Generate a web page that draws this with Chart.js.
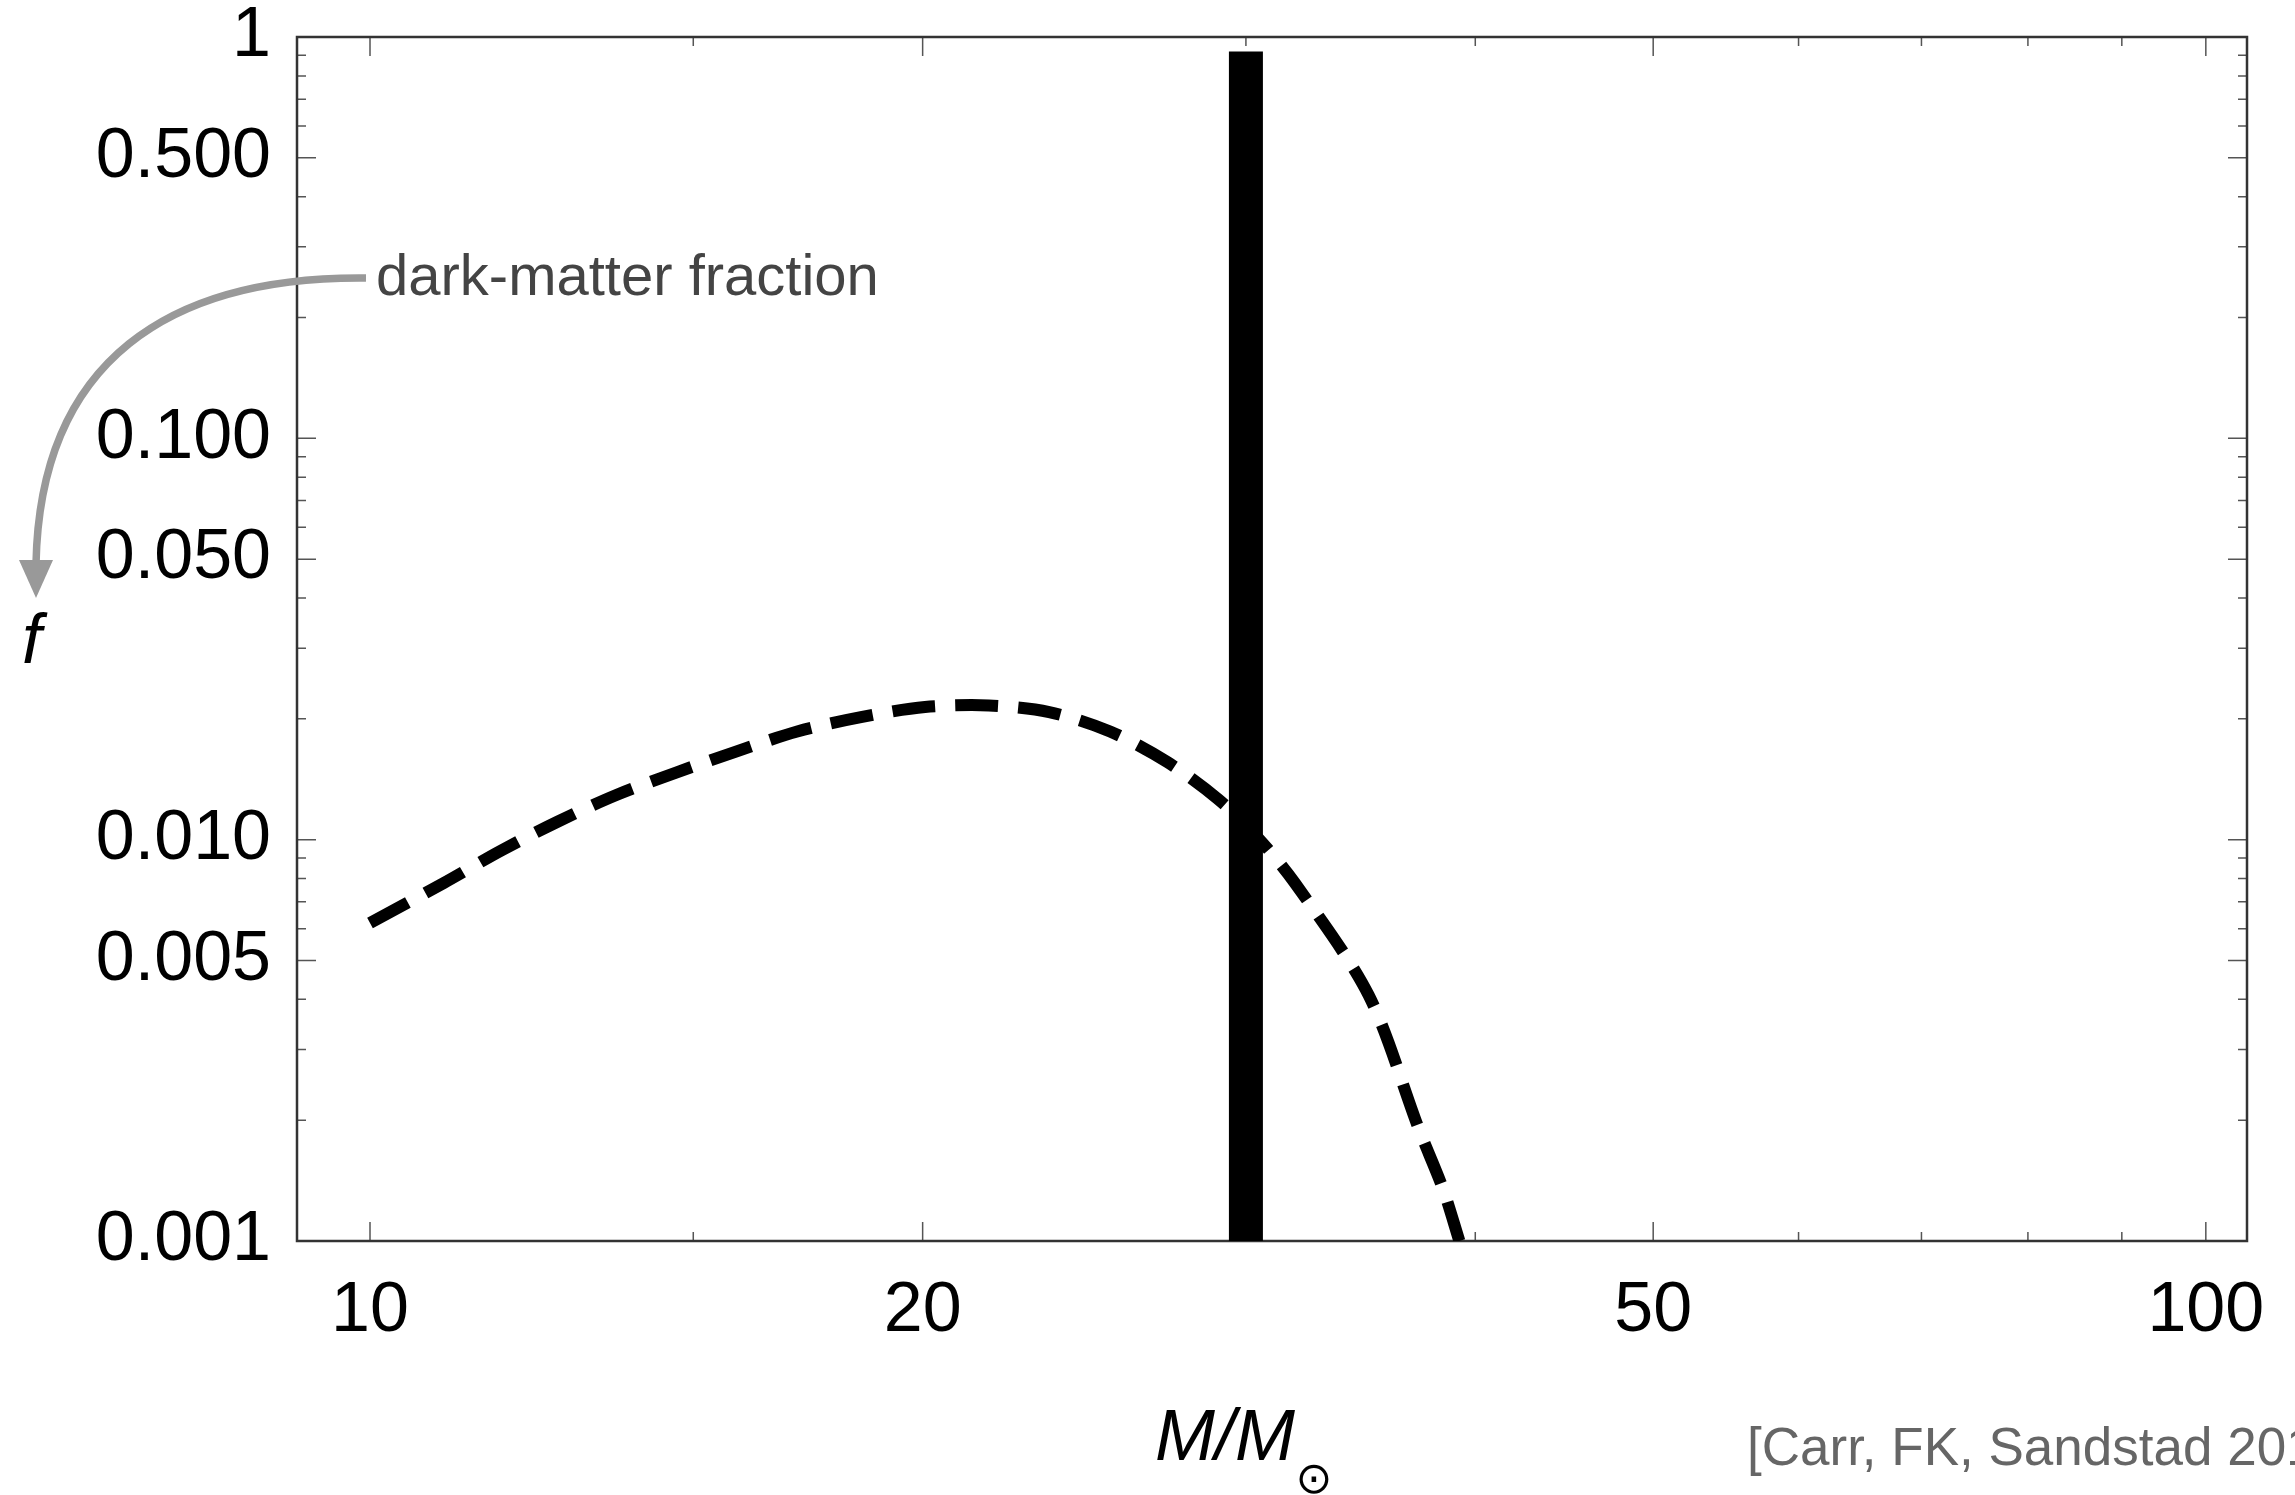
<!DOCTYPE html>
<html>
<head>
<meta charset="utf-8">
<script src="https://cdn.jsdelivr.net/npm/chart.js@4.4.1/dist/chart.umd.min.js"></script>
<style>
  html, body { margin: 0; padding: 0; background: #fff; }
  #wrap { width: 2295px; height: 1495px; }
</style>
</head>
<body>
<div id="wrap"><canvas id="chart" width="2295" height="1495"></canvas></div>
<script>
// dashed curve: dark-matter fraction f vs M/Msun
const massValues = [10, 10.97, 11.79, 12.66, 13.61, 14.68, 15.84, 17.09, 18.51, 20.06, 21.73, 23.44, 25.30, 27.19, 28.98, 30.40, 31.90, 34.99, 37.27, 38.41, 39.21];
const fractionValues = [0.0062, 0.0078, 0.0094, 0.0111, 0.0129, 0.0147, 0.0166, 0.0186, 0.0202, 0.0214, 0.0216, 0.0208, 0.0186, 0.0156, 0.0126, 0.0102, 0.0078, 0.0041, 0.0019, 0.00135, 0.001];

// thick vertical bar at M = 30
const barMass = [30, 30];
const barFraction = [0.001, 0.92];

const xTickValues = [10, 15, 20, 30, 40, 50, 60, 70, 80, 90, 100];
const xTickLabels = ['10', '', '20', '', '', '50', '', '', '', '', '100'];

const yTickValues = [0.001, 0.002, 0.003, 0.004, 0.005, 0.006, 0.007, 0.008, 0.009,
  0.01, 0.02, 0.03, 0.04, 0.05, 0.06, 0.07, 0.08, 0.09,
  0.1, 0.2, 0.3, 0.4, 0.5, 0.6, 0.7, 0.8, 0.9, 1];
const yTickLabels = ['0.001', '', '', '', '0.005', '', '', '', '',
  '0.010', '', '', '', '0.050', '', '', '', '',
  '0.100', '', '', '', '0.500', '', '', '', '', '1'];

const FONT = '"Liberation Sans", Arial, Helvetica, sans-serif';

// frame and inward ticks on all four sides
const frameTicks = {
  id: 'frameTicks',
  beforeDatasetsDraw(chart) {
    const { ctx, chartArea: a, scales: { x, y } } = chart;
    ctx.save();
    ctx.strokeStyle = '#555';
    ctx.lineWidth = 1.5;
    ctx.beginPath();
    xTickValues.forEach((v, i) => {
      const px = x.getPixelForValue(v);
      const len = xTickLabels[i] ? 19 : 9;
      ctx.moveTo(px, a.bottom); ctx.lineTo(px, a.bottom - len);
      ctx.moveTo(px, a.top); ctx.lineTo(px, a.top + len);
    });
    yTickValues.forEach((v, i) => {
      const py = y.getPixelForValue(v);
      const len = yTickLabels[i] ? 19 : 9;
      ctx.moveTo(a.left, py); ctx.lineTo(a.left + len, py);
      ctx.moveTo(a.right, py); ctx.lineTo(a.right - len, py);
    });
    ctx.stroke();
    ctx.strokeStyle = '#333';
    ctx.lineWidth = 2.5;
    ctx.strokeRect(a.left, a.top, a.width, a.height);
    ctx.restore();
  }
};

// annotation text, arrow and axis titles
const annotations = {
  id: 'annotations',
  afterDraw(chart) {
    const ctx = chart.ctx;
    ctx.save();

    // grey curved arrow
    ctx.strokeStyle = '#999';
    ctx.fillStyle = '#999';
    ctx.lineWidth = 7.5;
    ctx.beginPath();
    ctx.moveTo(366, 278);
    ctx.bezierCurveTo(170, 276, 40, 360, 36, 564);
    ctx.stroke();
    ctx.beginPath();
    ctx.moveTo(19, 560);
    ctx.lineTo(53, 560);
    ctx.lineTo(36, 598);
    ctx.closePath();
    ctx.fill();

    ctx.textBaseline = 'alphabetic';
    ctx.textAlign = 'left';
    ctx.fillStyle = '#444';
    ctx.font = '58px ' + FONT;
    ctx.fillText('dark-matter fraction', 376, 295);

    ctx.fillStyle = '#000';
    ctx.font = 'italic 70px ' + FONT;
    ctx.fillText('f', 22, 663);

    ctx.font = 'italic 72px ' + FONT;
    ctx.fillText('M/M', 1155, 1460);
    ctx.font = '44px "DejaVu Sans", sans-serif';
    ctx.textAlign = 'center';
    ctx.fillText('\u2299', 1314, 1493);

    ctx.textAlign = 'left';
    ctx.fillStyle = '#666';
    ctx.font = '53px ' + FONT;
    ctx.fillText('[Carr, FK, Sandstad 2016]', 1747, 1465);
    ctx.restore();
  }
};

new Chart(document.getElementById('chart'), {
  type: 'line',
  data: {
    datasets: [
      {
        data: massValues.map((m, i) => ({ x: m, y: fractionValues[i] })),
        borderColor: '#000',
        borderWidth: 12,
        borderDash: [43, 20],
        borderCapStyle: 'butt',
        pointRadius: 0,
        tension: 0.3,
        fill: false
      },
      {
        data: barMass.map((m, i) => ({ x: m, y: barFraction[i] })),
        borderColor: '#000',
        borderWidth: 34,
        borderCapStyle: 'butt',
        pointRadius: 0,
        fill: false
      }
    ]
  },
  options: {
    responsive: false,
    animation: false,
    events: [],
    layout: { autoPadding: false, padding: { top: 37, right: 48, left: 0, bottom: 0 } },
    plugins: { legend: { display: false }, tooltip: { enabled: false } },
    scales: {
      x: {
        type: 'logarithmic',
        min: 9.125,
        max: 105.3,
        grid: { display: false },
        border: { display: false },
        afterBuildTicks: s => { s.ticks = xTickValues.map(v => ({ value: v })); },
        afterFit: s => { s.height = 254; s.paddingLeft = 0; s.paddingRight = 0; },
        ticks: {
          autoSkip: false,
          maxRotation: 0,
          padding: 21,
          color: '#000',
          font: { family: FONT, size: 70 },
          callback: (v, i) => xTickLabels[i]
        }
      },
      y: {
        type: 'logarithmic',
        min: 0.001,
        max: 1,
        grid: { display: false },
        border: { display: false },
        afterBuildTicks: s => { s.ticks = yTickValues.map(v => ({ value: v })); },
        afterFit: s => { s.width = 297; s.paddingTop = 0; s.paddingBottom = 0; },
        ticks: {
          autoSkip: false,
          padding: 18,
          color: '#000',
          font: { family: FONT, size: 70 },
          callback: (v, i) => yTickLabels[i]
        }
      }
    }
  },
  plugins: [frameTicks, annotations]
});
</script>
</body>
</html>
